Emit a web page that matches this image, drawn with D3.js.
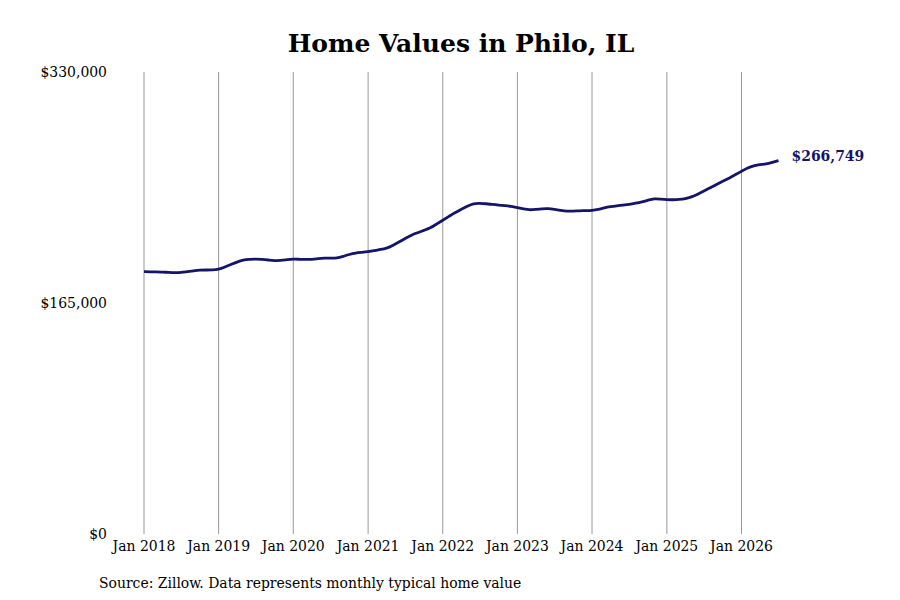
<!DOCTYPE html>
<html>
<head>
<meta charset="utf-8">
<script src="https://cdn.jsdelivr.net/npm/d3@7"></script>
<style>
  body { margin: 0; background: #fff; }
  text { font-family: "DejaVu Serif Condensed", "DejaVu Serif", serif; font-stretch: condensed; }
</style>
</head>
<body>
<div id="chart"></div>
<script>
/* Home values line chart, monthly typical value */

const startYear = 2018, startMonth = 0;
const values = [
    187360, 187290, 187220, 187080, 186860, 186650, 186790, 187430, 187930, 188570, 188570, 188570,
    188930, 190720, 192430, 194290, 195790, 196220, 196360, 196150, 195720, 195220, 195290, 195930,
    196430, 196220, 196070, 196150, 196720, 197150, 197000, 196930, 198290, 199720, 200720, 201150,
    201650, 202440, 203220, 204010, 206080, 208580, 211010, 213580, 215220, 216860, 218500, 221290,
    224150, 226860, 229430, 231860, 234220, 236220, 236220, 235930, 235360, 234930, 234570, 234070,
    233140, 232220, 231430, 231860, 232290, 232500, 231860, 231150, 230500, 230650, 230860, 231000,
    231070, 231790, 233080, 233860, 234430, 234930, 235430, 236290, 237220, 238430, 239650, 239220,
    238790, 238720, 238930, 239430, 240720, 242720, 244930, 247290, 249650, 251930, 254150, 256500,
    259080, 261510, 263080, 264080, 264080, 265430, 266749
];
const yTicks = [0, 165000, 330000];
const xTickYears = [2018, 2019, 2020, 2021, 2022, 2023, 2024, 2025, 2026];

const data = values.map((v, i) => ({ date: new Date(startYear, startMonth + i, 1), value: v }));

const width = 900, height = 600;
const margin = ({ top: 72, right: 122, bottom: 66, left: 144 });

let svg = d3.select("#chart")
            .append("svg")
            .attr("width", width)
            .attr("height", height);

const x = d3.scaleTime()
            .domain([new Date(2018, 0, 1), new Date(2026, 0, 1)])
            .range([144, 741.5]);

const y = d3.scaleLinear()
            .domain([0, 330000])
            .range([height - margin.bottom, margin.top]);

// vertical grid lines at each January
svg.append("g")
    .selectAll("line")
    .data(xTickYears)
    .join("line")
    .attr("x1", d => x(new Date(d, 0, 1)))
    .attr("x2", d => x(new Date(d, 0, 1)))
    .attr("y1", y(330000))
    .attr("y2", y(0))
    .attr("stroke", "#999")
    .attr("stroke-width", 1);

// x labels
svg.append("g")
    .selectAll("text")
    .data(xTickYears)
    .join("text")
    .attr("x", d => x(new Date(d, 0, 1)))
    .attr("y", y(0) + 17)
    .attr("text-anchor", "middle")
    .style("font-size", "15.5px")
    .style("fill", "#000")
    .text(d => "Jan " + d);

// y labels
svg.append("g")
    .selectAll("text")
    .data(yTicks)
    .join("text")
    .attr("x", 107)
    .attr("y", d => y(d) + 5)
    .attr("text-anchor", "end")
    .style("font-size", "15.5px")
    .style("fill", "#000")
    .text(d => "$" + d3.format(",")(d));

const line = d3.line()
    .x(d => x(d.date))
    .y(d => y(d.value))
    .curve(d3.curveBasis);

svg.append("path")
    .datum(data)
    .attr("fill", "none")
    .attr("stroke", "#14146b")
    .attr("stroke-width", 2.8)
    .attr("stroke-linejoin", "round")
    .attr("d", line);

const last = data[data.length - 1];
svg.append("text")
    .attr("x", x(last.date) + 13)
    .attr("y", y(last.value) + 0)
    .style("font-size", "15.5px")
    .style("font-weight", "bold")
    .style("fill", "#14146b")
    .text("$" + d3.format(",")(last.value));

svg.append("text")
    .attr("x", 461)
    .attr("y", 52)
    .attr("text-anchor", "middle")
    .style("font-family", "'DejaVu Serif', serif")
    .style("font-size", "25px")
    .style("font-weight", "bold")
    .style("font-stretch", "normal")
    .style("fill", "#000")
    .text("Home Values in Philo, IL");

svg.append("text")
    .attr("x", 99)
    .attr("y", 588)
    .style("font-size", "15.5px")
    .style("fill", "#000")
    .text("Source: Zillow. Data represents monthly typical home value");
</script>
</body>
</html>
